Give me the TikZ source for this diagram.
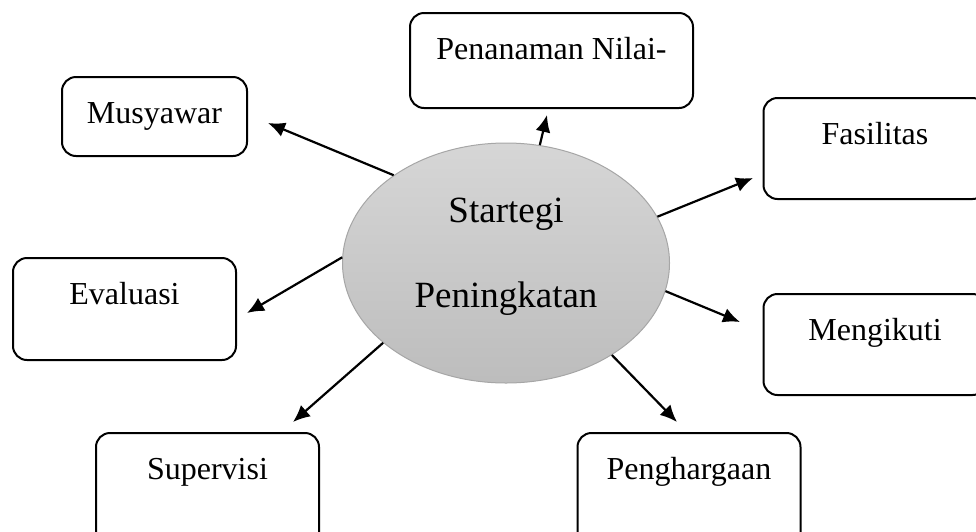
\documentclass[tikz,border=0pt]{standalone}
\usepackage{fontspec}
\setmainfont{Liberation Serif}
\usetikzlibrary{shapes.geometric,arrows.meta}
\begin{document}
\begin{tikzpicture}[x=1pt,y=-1pt,
        box/.style={draw, line width=2pt, rounded corners=14pt, anchor=north, minimum width=223pt, inner sep=0pt, text height=46pt, font=\fontsize{32}{38}\selectfont},
        arr/.style={line width=2.2pt, -{Latex[length=17pt,width=15pt]}}]
        \useasboundingbox (0,0) rectangle (976,531);
        % centre
        \node[ellipse, draw=black!35, line width=1pt, top color=black!16, bottom color=black!26, minimum width=327pt, minimum height=240pt, inner sep=0pt, align=center, text depth=20pt, font=\fontsize{37}{85}\selectfont] (core) at (506,263) {Startegi\\Peningkatan};
        % boxes
        \node[box, minimum width=185pt, text depth=33pt] (musy) at (154.5,76) {Musyawar};
        \node[box, minimum width=283pt, text depth=49pt] (nilai) at (551.5,12) {Penanaman Nilai-};
        \node[box, text depth=55pt] (fasi) at (875,97) {Fasilitas};
        \node[box, text depth=56pt] (eval) at (124.5,257) {Evaluasi};
        \node[box, text depth=55pt] (ikut) at (875,293) {Mengikuti};
        \node[box, text depth=70pt] (supv) at (207.5,432) {Supervisi};
        \node[box, text depth=70pt] (harga) at (689,432) {Penghargaan};
        % arrow ends
        \coordinate (musyTip) at (268,123);
        \coordinate (nilaiTip) at (547,115);
        \coordinate (fasiTip) at (753,178);
        \coordinate (evalTip) at (247,313);
        \coordinate (ikutTip) at (740,322);
        \coordinate (supvTip) at (293,422);
        \coordinate (hargaTip) at (677,422);
        \draw[arr] (core.142.6) -- (musyTip);
        \draw[arr] (core.74.6) -- (nilaiTip);
        \draw[arr] (core.17.7) -- (fasiTip);
        \draw[arr] (core.178) -- (evalTip);
        \draw[arr] (core.-10.8) -- (ikutTip);
        \draw[arr] (core.213) -- (supvTip);
        \draw[arr] (core.-41.8) -- (hargaTip);
\end{tikzpicture}
\end{document}
